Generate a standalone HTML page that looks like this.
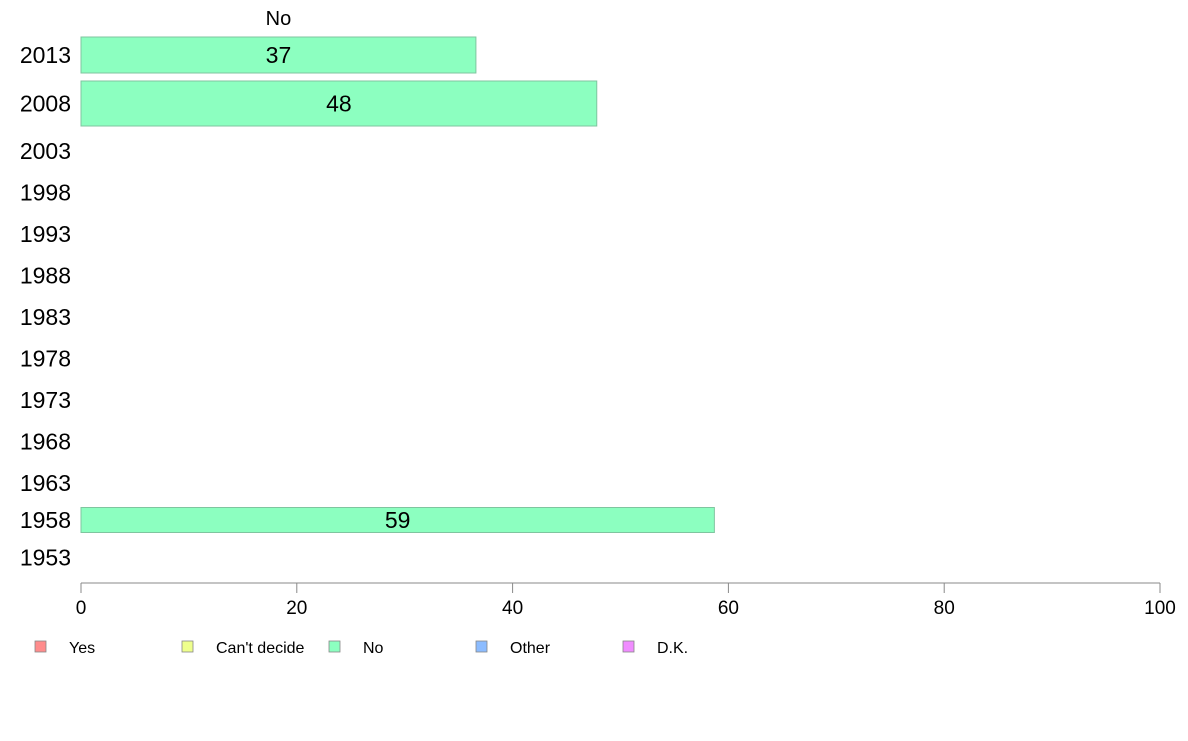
<!DOCTYPE html>
<html><head><meta charset="utf-8">
<style>
body{margin:0;background:#fff;width:1188px;height:736px;overflow:hidden;font-family:"Liberation Sans",sans-serif;}
svg text{font-family:"Liberation Sans",sans-serif;}
</style></head>
<body>
<svg id="chart" width="1188" height="736" xmlns="http://www.w3.org/2000/svg"></svg>
<script>
const years = ["2013","2008","2003","1998","1993","1988","1983","1978","1973","1968","1963","1958","1953"];
const noValues = [36.6, 47.8, null, null, null, null, null, null, null, null, null, 58.7, null];
const noLabels = ["37","48","","","","","","","","","","59",""];
const bandWeights = [36, 45, 33.5, 33.5, 33.5, 33.5, 33.5, 33.5, 33.5, 33.5, 33.5, 25, 33.5];
const xTicks = [0, 20, 40, 60, 80, 100];
const legendLabels = ["Yes", "Can't decide", "No", "Other", "D.K."];
const legendColors = ["#ff8c8c", "#eeff8c", "#8cffc0", "#8cbcff", "#f08cff"];

const svg = document.getElementById('chart');
const NS = "http://www.w3.org/2000/svg";
const X0 = 81, X1 = 1160, TOP = 37, GAP = 8, AXIS_Y = 583;
function x(v){ return X0 + (v/100)*(X1-X0); }
function mk(tag, attrs){ const e = document.createElementNS(NS, tag); for (const k in attrs) e.setAttribute(k, attrs[k]); svg.appendChild(e); return e; }

// band layout from weights
const totalW = bandWeights.reduce((a,b)=>a+b,0);
const avail = 537 - GAP*(years.length-1);
let yPos = TOP;
const bands = bandWeights.map(w => { const h = w/totalW*avail; const b = {y:yPos, h:h}; yPos += h + GAP; return b; });

// header
const hdr = mk('text', {x: (x(0)+x(noValues[0]))/2, y: 25, 'text-anchor':'middle', 'font-size':20, fill:'#000'});
hdr.textContent = "No";



years.forEach((yr, i) => {
  const b = bands[i];
  const t = mk('text', {x: 71, y: b.y + b.h/2 + 8, 'text-anchor':'end', 'font-size':23, fill:'#000'});
  t.textContent = yr;
  
  
  const v = noValues[i];
  if (v !== null) {
    const r = mk('rect', {x: x(0), y: b.y, width: x(v)-x(0), height: b.h, fill:'#8cffc0', stroke:'#7fc59f', 'stroke-width':1});
    
    
    const lt = mk('text', {x: (x(0)+x(v))/2, y: b.y + b.h/2 + 8, 'text-anchor':'middle', 'font-size':23, fill:'#000'});
    lt.textContent = noLabels[i];
    
    
  }
});

// x axis
const ax = mk('line', {x1: x(0), y1: AXIS_Y, x2: x(100), y2: AXIS_Y, stroke:'#888', 'stroke-width':1});


xTicks.forEach(v => {
  const tk = mk('line', {x1: x(v), y1: AXIS_Y, x2: x(v), y2: AXIS_Y+10, stroke:'#888', 'stroke-width':1});
  
  
  const tl = mk('text', {x: x(v), y: AXIS_Y+31, 'text-anchor':'middle', 'font-size':19, fill:'#000'});
  tl.textContent = String(v);
  
  
});

// legend
legendLabels.forEach((lab, i) => {
  const lx = 35 + i*147;
  const sq = mk('rect', {x: lx, y: 641, width: 11, height: 11, fill: legendColors[i], stroke:'#888', 'stroke-width':0.8});
  
  
  const lt = mk('text', {x: lx+34, y: 653, 'font-size':16, fill:'#000'});
  lt.textContent = lab;
  
  
});
</script>
</body></html>
